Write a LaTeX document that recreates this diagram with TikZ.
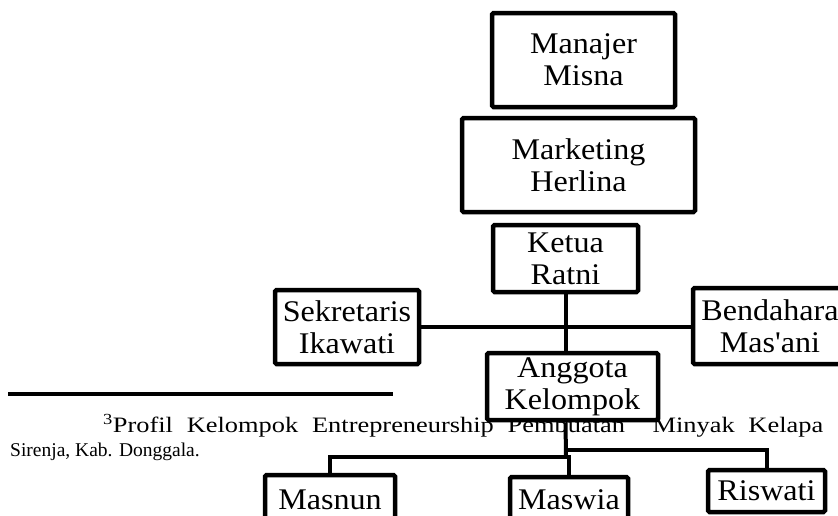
\documentclass[tikz,border=0pt]{standalone}
\usepackage{fontspec}
\setmainfont{Liberation Serif}
\newfontfamily\bagan[FakeStretch=1.07]{Liberation Serif}
\newfontfamily\lebar[FakeStretch=1.2]{Liberation Serif}
\usepackage{tikz}
\usetikzlibrary{positioning}

\begin{document}
\begin{tikzpicture}[x=1pt, y=-1pt,
    jabatan/.style={rectangle, draw=black, fill=white, line width=4.5pt, rounded corners=1.5pt, align=center, inner sep=0pt, font=\bagan\fontsize{30}{32}\selectfont},
    garis/.style={line width=4pt, black},
    catatan/.style={inner sep=0pt, anchor=base west, font=\fontsize{19.5}{23}\selectfont}
]
\useasboundingbox (0,0) rectangle (838,515);
\clip (0,0) rectangle (838,515);

% Footnote - drawn first so the boxes sit on top
\draw[line width=3.5pt] (8,394) -- (393,394);
\node[catatan, font=\lebar\fontsize{22}{23}\selectfont] (fnline1) at (103,432) {\makebox[720pt][s]{\textsuperscript{3}Profil Kelompok Entrepreneurship Pembuatan\ \ Minyak Kelapa}};
\node[catatan] (fnline2) at (10,456) {Sirenja, Kab. Donggala.};

% Top of the chart
\node[jabatan, minimum width=183pt, minimum height=94pt] (manajer) at (583.5,60) {Manajer\\Misna};
\node[jabatan, minimum width=233pt, minimum height=94pt] (marketing) at (578.5,165) {Marketing\\Herlina};
\node[jabatan, minimum width=145pt, minimum height=67pt] (ketua) at (565.5,258.5) {Ketua\\Ratni};

% Sekretaris and Bendahara - either side of the Ketua line
\node[jabatan, minimum width=144pt, minimum height=74pt] (sekretaris) at (347,327) {Sekretaris\\Ikawati};
\node[jabatan, minimum width=154pt, minimum height=76pt] (bendahara) at (770,326) {Bendahara\\Mas'ani};

% Anggota
\node[jabatan, minimum width=171pt, minimum height=67pt] (anggota) at (572.5,386.5) {Anggota\\Kelompok};

% Members - bottom row (cut by the page edge)
\node[jabatan, minimum width=130pt, minimum height=50pt] (masnun) at (330,500) {Masnun};
\node[jabatan, minimum width=118pt, minimum height=46pt] (maswia) at (569,500) {Maswia};
\node[jabatan, minimum width=117pt, minimum height=42pt] (riswati) at (766.5,491) {Riswati};

% Lines
\draw[garis] (ketua.south) -- (ketua.south |- anggota.north);
\draw[garis] (sekretaris.east) -- (sekretaris.east -| bendahara.west);

\coordinate (cabangkanan) at (566,450);
\coordinate (cabangkiri) at (566,457);
\draw[garis] (ketua.south |- anggota.south) -- (cabangkiri);
\draw[garis] (cabangkanan) -| (riswati.north);
\draw[garis] (masnun.north) |- (maswia.north |- cabangkiri) -- (maswia.north);

\end{tikzpicture}
\end{document}
